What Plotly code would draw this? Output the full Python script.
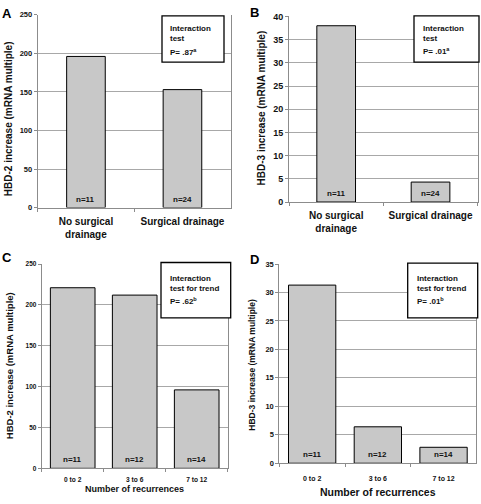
import plotly.graph_objects as go

W, H = 481, 504

# ---- data ----
cats_ab = ["No surgical<br>drainage", "Surgical drainage"]
cats_cd = ["0 to 2", "3 to 6", "7 to 12"]
hbd2_drain = [196, 153]
hbd3_drain = [38.0, 4.3]
hbd2_recur = [221, 212, 96]
hbd3_recur = [31.3, 6.4, 2.8]
n_ab = ["n=11", "n=24"]
n_cd = ["n=11", "n=12", "n=14"]
pvals = ["P= .87<sup>a</sup>", "P= .01<sup>a</sup>", "P= .62<sup>b</sup>", "P= .01<sup>b</sup>"]
box_head = ["Interaction<br>test", "Interaction<br>test",
            "Interaction<br>test for trend", "Interaction<br>test for trend"]
ytitles = ["HBD-2 increase (mRNA multiple)", "HBD-3 increase (mRNA multiple)",
           "HBD-2 increase (mRNA multiple)", "HBD-3 increase (mRNA multiple)"]
letters = ["A", "B", "C", "D"]
ymax = [250, 40, 250, 35]
ystep = [50, 5, 50, 5]

FONT = "Liberation Sans, Arial, sans-serif"
TXT = "#111111"


def px(x):
    return x / W


def py(y):
    return 1 - y / H


panels = [
    dict(cats=cats_ab, vals=hbd2_drain, ns=n_ab, xd=(37.7, 230.7), yd=(10, 206.7), bw=0.40,
         tickfs=7.5, catfs=10, so=4, box=(162, 224, 11, 58.3), tx=169, ty=(29.2, 48),
         let=(6.7, 8.5), yt=(8.5, 116, 10), xt=None),
    dict(cats=cats_ab, vals=hbd3_drain, ns=n_ab, xd=(289, 477.7), yd=(11.7, 201), bw=0.41,
         tickfs=9, catfs=10, so=4, box=(414, 479, 11, 58.3), tx=421.7, ty=(29.4, 47.3),
         let=(254, 8), yt=(261.5, 105, 10), xt=None),
    dict(cats=cats_cd, vals=hbd2_recur, ns=n_cd, xd=(41.7, 227.7), yd=(264.3, 472.7), bw=0.72,
         tickfs=6.5, catfs=6.6, so=5, box=(161, 230.7, 262.7, 319.3), tx=169.3, ty=(283.7, 301.7),
         let=(6.7, 258), yt=(9, 368.5, 9.5), xt=(493.5, 9)),
    dict(cats=cats_cd, vals=hbd3_recur, ns=n_cd, xd=(279.3, 476.4), yd=(264.3, 467.5), bw=0.72,
         tickfs=7.5, catfs=7, so=8, box=(407.7, 477.7, 263.3, 319.3), tx=415.7, ty=(283.7, 301.7),
         let=(254, 260), yt=(252.5, 367.5, 8.5), xt=(497, 10.5)),
]

fig = go.Figure()
shapes = []
annos = []
layout = {}

for i, p in enumerate(panels):
    k = "" if i == 0 else str(i + 1)
    xa, ya = "x" + k, "y" + k
    fig.add_trace(go.Bar(
        x=p["cats"], y=p["vals"], xaxis=xa, yaxis=ya, width=p["bw"],
        marker=dict(color="#c8c8c8", line=dict(color="#000000", width=1)),
        showlegend=False, hoverinfo="skip"))
    ncat = len(p["cats"])
    layout["xaxis" + k] = dict(
        domain=[px(p["xd"][0]), px(p["xd"][1])], anchor=ya,
        type="category", range=[-0.5, ncat - 0.5],
        showgrid=False, showline=True, linecolor="#8c8c8c", linewidth=1,
        ticks="outside", tickson="boundaries", ticklen=3, tickcolor="#8c8c8c",
        ticklabelstandoff=p["so"],
        tickfont=dict(family=FONT, size=p["catfs"], color=TXT, weight="bold"),
        fixedrange=True)
    layout["yaxis" + k] = dict(
        domain=[py(p["yd"][1]), py(p["yd"][0])], anchor=xa,
        range=[0, ymax[i]], dtick=ystep[i], tick0=0,
        showgrid=True, gridcolor="#a8a8a8", gridwidth=1,
        showline=True, linecolor="#8c8c8c", linewidth=1, mirror=True,
        ticks="outside", ticklen=3, tickcolor="#8c8c8c",
        tickfont=dict(family=FONT, size=p["tickfs"], color=TXT, weight="bold"),
        zeroline=False, fixedrange=True)
    # n labels inside bars
    for c, n in zip(p["cats"], p["ns"]):
        annos.append(dict(x=c, y=0, xref=xa, yref=ya, text=n, showarrow=False,
                          yanchor="bottom", yshift=2,
                          font=dict(family=FONT, size=8, color=TXT, weight="bold")))
    # interaction box
    x0, x1, y0, y1 = p["box"]
    shapes.append(dict(type="rect", xref="paper", yref="paper",
                       x0=px(x0), x1=px(x1), y0=py(y1), y1=py(y0),
                       line=dict(color="#000000", width=1.3), fillcolor="#ffffff",
                       layer="above"))
    for t, yy in zip([box_head[i], pvals[i]], p["ty"]):
        annos.append(dict(x=px(p["tx"]), y=py(yy), xref="paper", yref="paper",
                          text=t, showarrow=False, xanchor="left", yanchor="middle",
                          align="left", borderpad=0,
                          font=dict(family=FONT, size=8, color=TXT, weight="bold")))
    # panel letter
    annos.append(dict(x=px(p["let"][0]), y=py(p["let"][1]), xref="paper", yref="paper",
                      text=letters[i], showarrow=False, xanchor="center", yanchor="middle",
                      font=dict(family=FONT, size=13, color="#000000", weight="bold")))
    # y axis title
    annos.append(dict(x=px(p["yt"][0]), y=py(p["yt"][1]), xref="paper", yref="paper",
                      text=ytitles[i], showarrow=False, textangle=-90,
                      xanchor="center", yanchor="middle",
                      font=dict(family=FONT, size=p["yt"][2], color=TXT, weight="bold")))
    # x axis title
    if p["xt"] is not None:
        cx = (p["xd"][0] + p["xd"][1]) / 2
        annos.append(dict(x=px(cx), y=py(p["xt"][0]), xref="paper", yref="paper",
                          text="Number of recurrences", showarrow=False,
                          xanchor="center", yanchor="middle", borderpad=0,
                          font=dict(family=FONT, size=p["xt"][1], color=TXT, weight="bold")))

fig.update_layout(
    width=W, height=H, margin=dict(l=0, r=0, t=0, b=0),
    paper_bgcolor="#ffffff", plot_bgcolor="#ffffff",
    shapes=shapes, annotations=annos, bargap=0.3,
    **layout)

fig.write_html("out.html", config={"displayModeBar": False},
               post_script="document.body.style.margin='0';document.body.style.overflow='hidden';")
